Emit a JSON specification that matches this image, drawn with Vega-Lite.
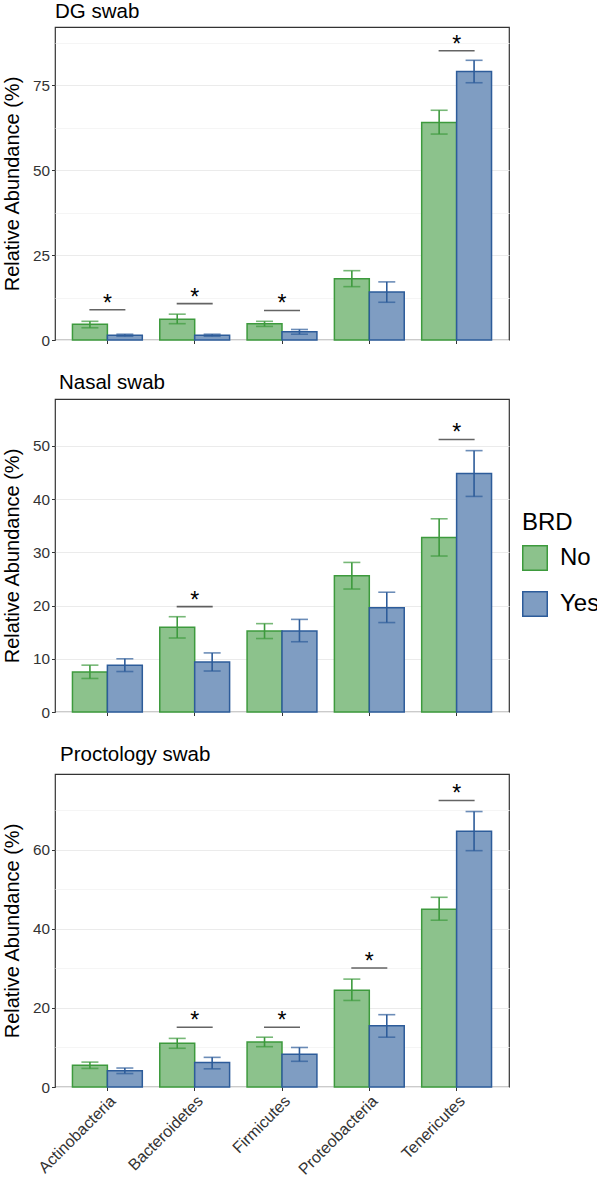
{
  "$schema": "https://vega.github.io/schema/vega-lite/v6.json",
  "padding": {"left": 1, "top": 0, "right": 0, "bottom": 0},
  "background": "white",
  "spacing": 22,
  "datasets": {
    "bars": [
      {"panel": "DG", "phylum": "Actinobacteria", "BRD": "No", "mean": 4.6, "lo": 3.6, "hi": 5.5},
      {"panel": "DG", "phylum": "Actinobacteria", "BRD": "Yes", "mean": 1.4, "lo": 1.1, "hi": 1.7},
      {"panel": "DG", "phylum": "Bacteroidetes", "BRD": "No", "mean": 6.1, "lo": 4.8, "hi": 7.6},
      {"panel": "DG", "phylum": "Bacteroidetes", "BRD": "Yes", "mean": 1.4, "lo": 1.1, "hi": 1.7},
      {"panel": "DG", "phylum": "Firmicutes", "BRD": "No", "mean": 4.8, "lo": 4.0, "hi": 5.5},
      {"panel": "DG", "phylum": "Firmicutes", "BRD": "Yes", "mean": 2.4, "lo": 1.7, "hi": 3.1},
      {"panel": "DG", "phylum": "Proteobacteria", "BRD": "No", "mean": 18.0, "lo": 15.7, "hi": 20.4},
      {"panel": "DG", "phylum": "Proteobacteria", "BRD": "Yes", "mean": 14.1, "lo": 11.1, "hi": 17.1},
      {"panel": "DG", "phylum": "Tenericutes", "BRD": "No", "mean": 64.0, "lo": 60.6, "hi": 67.6},
      {"panel": "DG", "phylum": "Tenericutes", "BRD": "Yes", "mean": 79.0, "lo": 75.7, "hi": 82.3},
      {"panel": "Nasal", "phylum": "Actinobacteria", "BRD": "No", "mean": 7.5, "lo": 6.3, "hi": 8.8},
      {"panel": "Nasal", "phylum": "Actinobacteria", "BRD": "Yes", "mean": 8.8, "lo": 7.6, "hi": 10.0},
      {"panel": "Nasal", "phylum": "Bacteroidetes", "BRD": "No", "mean": 15.9, "lo": 13.9, "hi": 17.9},
      {"panel": "Nasal", "phylum": "Bacteroidetes", "BRD": "Yes", "mean": 9.4, "lo": 7.7, "hi": 11.1},
      {"panel": "Nasal", "phylum": "Firmicutes", "BRD": "No", "mean": 15.2, "lo": 13.8, "hi": 16.6},
      {"panel": "Nasal", "phylum": "Firmicutes", "BRD": "Yes", "mean": 15.2, "lo": 13.2, "hi": 17.4},
      {"panel": "Nasal", "phylum": "Proteobacteria", "BRD": "No", "mean": 25.6, "lo": 23.1, "hi": 28.1},
      {"panel": "Nasal", "phylum": "Proteobacteria", "BRD": "Yes", "mean": 19.6, "lo": 16.8, "hi": 22.5},
      {"panel": "Nasal", "phylum": "Tenericutes", "BRD": "No", "mean": 32.8, "lo": 29.3, "hi": 36.3},
      {"panel": "Nasal", "phylum": "Tenericutes", "BRD": "Yes", "mean": 44.8, "lo": 40.5, "hi": 49.1},
      {"panel": "Procto", "phylum": "Actinobacteria", "BRD": "No", "mean": 5.5, "lo": 4.7, "hi": 6.3},
      {"panel": "Procto", "phylum": "Actinobacteria", "BRD": "Yes", "mean": 4.1, "lo": 3.4, "hi": 4.8},
      {"panel": "Procto", "phylum": "Bacteroidetes", "BRD": "No", "mean": 11.1, "lo": 9.8, "hi": 12.3},
      {"panel": "Procto", "phylum": "Bacteroidetes", "BRD": "Yes", "mean": 6.2, "lo": 4.6, "hi": 7.5},
      {"panel": "Procto", "phylum": "Firmicutes", "BRD": "No", "mean": 11.4, "lo": 10.2, "hi": 12.6},
      {"panel": "Procto", "phylum": "Firmicutes", "BRD": "Yes", "mean": 8.3, "lo": 6.5, "hi": 10.0},
      {"panel": "Procto", "phylum": "Proteobacteria", "BRD": "No", "mean": 24.5, "lo": 21.9, "hi": 27.3},
      {"panel": "Procto", "phylum": "Proteobacteria", "BRD": "Yes", "mean": 15.5, "lo": 12.6, "hi": 18.3},
      {"panel": "Procto", "phylum": "Tenericutes", "BRD": "No", "mean": 45.0, "lo": 42.2, "hi": 48.0},
      {"panel": "Procto", "phylum": "Tenericutes", "BRD": "Yes", "mean": 64.7, "lo": 59.8, "hi": 69.7}
    ],
    "sig": [
      {"panel": "DG", "phylum": "Actinobacteria", "y": 8.9, "label": "*"},
      {"panel": "DG", "phylum": "Bacteroidetes", "y": 10.7, "label": "*"},
      {"panel": "DG", "phylum": "Firmicutes", "y": 8.7, "label": "*"},
      {"panel": "DG", "phylum": "Tenericutes", "y": 85.1, "label": "*"},
      {"panel": "Nasal", "phylum": "Bacteroidetes", "y": 19.8, "label": "*"},
      {"panel": "Nasal", "phylum": "Tenericutes", "y": 51.2, "label": "*"},
      {"panel": "Procto", "phylum": "Bacteroidetes", "y": 15.1, "label": "*"},
      {"panel": "Procto", "phylum": "Firmicutes", "y": 15.1, "label": "*"},
      {"panel": "Procto", "phylum": "Proteobacteria", "y": 30.1, "label": "*"},
      {"panel": "Procto", "phylum": "Tenericutes", "y": 72.5, "label": "*"}
    ]
  },
  "resolve": {"legend": {"fill": "independent"}},
  "vconcat": [
    {
      "title": {"text": "DG swab", "offset": 5},
      "width": 454,
      "height": 313,
      "layer": [
        {
          "data": {"name": "bars"},
          "transform": [{"filter": "datum.panel === 'DG'"}],
          "mark": {"type": "bar", "strokeWidth": 1.5},
          "encoding": {
            "x": {"field": "phylum", "type": "nominal", "sort": null, "scale": {"paddingInner": 0.2, "paddingOuter": 0.2}, "axis": {"labels": false, "title": null}},
            "xOffset": {"field": "BRD", "type": "nominal"},
            "y": {"field": "mean", "type": "quantitative", "scale": {"domain": [0, 92.1], "nice": false}, "axis": {"values": [0, 12.5, 25, 37.5, 50, 62.5, 75, 87.5], "labelExpr": "datum.value % 25 === 0 ? datum.label : ''", "gridColor": {"condition": {"test": "datum.value % 25 !== 0", "value": "#f5f5f5"}, "value": "#ebebeb"}, "tickOpacity": {"condition": {"test": "datum.value % 25 !== 0", "value": 0}, "value": 1}, "title": "Relative Abundance (%)"}},
            "fill": {"field": "BRD", "type": "nominal", "scale": {"range": ["#8cc28c", "#7f9dc2"]}, "legend": null},
            "stroke": {"field": "BRD", "type": "nominal", "scale": {"range": ["#3d9a3d", "#2d5c9a"]}, "legend": null}
          }
        },
        {
          "data": {"name": "bars"},
          "transform": [{"filter": "datum.panel === 'DG'"}],
          "mark": {"type": "rule", "strokeWidth": 1.6},
          "encoding": {
            "x": {"field": "phylum", "type": "nominal", "sort": null},
            "xOffset": {"field": "BRD", "type": "nominal"},
            "y": {"field": "lo", "type": "quantitative"},
            "y2": {"field": "hi"},
            "stroke": {"field": "BRD", "type": "nominal", "legend": null}
          }
        },
        {
          "data": {"name": "bars"},
          "transform": [{"filter": "datum.panel === 'DG'"}, {"fold": ["lo", "hi"], "as": ["end", "val"]}],
          "mark": {"type": "tick", "orient": "horizontal", "size": 17, "thickness": 1.6},
          "encoding": {
            "x": {"field": "phylum", "type": "nominal", "sort": null},
            "xOffset": {"field": "BRD", "type": "nominal"},
            "y": {"field": "val", "type": "quantitative"},
            "color": {"field": "BRD", "type": "nominal", "scale": {"range": ["#3d9a3d", "#2d5c9a"]}, "legend": null}
          }
        },
        {
          "data": {"name": "sig"},
          "transform": [{"filter": "datum.panel === 'DG'"}],
          "mark": {"type": "tick", "orient": "horizontal", "size": 36, "thickness": 1.6, "color": "#222222"},
          "encoding": {
            "x": {"field": "phylum", "type": "nominal", "sort": null},
            "y": {"field": "y", "type": "quantitative"}
          }
        },
        {
          "data": {"name": "sig"},
          "transform": [{"filter": "datum.panel === 'DG'"}],
          "mark": {"type": "text", "fontSize": 23, "baseline": "alphabetic", "dy": 1, "color": "#000000"},
          "encoding": {
            "x": {"field": "phylum", "type": "nominal", "sort": null},
            "y": {"field": "y", "type": "quantitative"},
            "text": {"field": "label"}
          }
        }
      ]
    },
    {
      "title": {"text": "Nasal swab", "dx": 4, "offset": 6},
      "width": 454,
      "height": 313,
      "layer": [
        {
          "data": {"name": "bars"},
          "transform": [{"filter": "datum.panel === 'Nasal'"}],
          "mark": {"type": "bar", "strokeWidth": 1.5},
          "encoding": {
            "x": {"field": "phylum", "type": "nominal", "sort": null, "scale": {"paddingInner": 0.2, "paddingOuter": 0.2}, "axis": {"labels": false, "title": null}},
            "xOffset": {"field": "BRD", "type": "nominal"},
            "y": {"field": "mean", "type": "quantitative", "scale": {"domain": [0, 58.8], "nice": false}, "axis": {"values": [0, 5, 10, 15, 20, 25, 30, 35, 40, 45, 50, 55], "labelExpr": "datum.value % 10 === 0 ? datum.label : ''", "gridColor": {"condition": {"test": "datum.value % 10 !== 0", "value": "#f5f5f5"}, "value": "#ebebeb"}, "tickOpacity": {"condition": {"test": "datum.value % 10 !== 0", "value": 0}, "value": 1}, "title": "Relative Abundance (%)"}},
            "fill": {"field": "BRD", "type": "nominal", "scale": {"range": ["#8cc28c", "#7f9dc2"]}, "legend": {"title": "BRD", "orient": "none", "legendX": 467, "legendY": 112, "encode": {"symbols": {"update": {"stroke": {"scale": "stroke", "field": "value"}, "strokeWidth": {"value": 1.5}}}}}},
            "stroke": {"field": "BRD", "type": "nominal", "scale": {"range": ["#3d9a3d", "#2d5c9a"]}, "legend": null}
          }
        },
        {
          "data": {"name": "bars"},
          "transform": [{"filter": "datum.panel === 'Nasal'"}],
          "mark": {"type": "rule", "strokeWidth": 1.6},
          "encoding": {
            "x": {"field": "phylum", "type": "nominal", "sort": null},
            "xOffset": {"field": "BRD", "type": "nominal"},
            "y": {"field": "lo", "type": "quantitative"},
            "y2": {"field": "hi"},
            "stroke": {"field": "BRD", "type": "nominal", "legend": null}
          }
        },
        {
          "data": {"name": "bars"},
          "transform": [{"filter": "datum.panel === 'Nasal'"}, {"fold": ["lo", "hi"], "as": ["end", "val"]}],
          "mark": {"type": "tick", "orient": "horizontal", "size": 17, "thickness": 1.6},
          "encoding": {
            "x": {"field": "phylum", "type": "nominal", "sort": null},
            "xOffset": {"field": "BRD", "type": "nominal"},
            "y": {"field": "val", "type": "quantitative"},
            "color": {"field": "BRD", "type": "nominal", "scale": {"range": ["#3d9a3d", "#2d5c9a"]}, "legend": null}
          }
        },
        {
          "data": {"name": "sig"},
          "transform": [{"filter": "datum.panel === 'Nasal'"}],
          "mark": {"type": "tick", "orient": "horizontal", "size": 36, "thickness": 1.6, "color": "#222222"},
          "encoding": {
            "x": {"field": "phylum", "type": "nominal", "sort": null},
            "y": {"field": "y", "type": "quantitative"}
          }
        },
        {
          "data": {"name": "sig"},
          "transform": [{"filter": "datum.panel === 'Nasal'"}],
          "mark": {"type": "text", "fontSize": 23, "baseline": "alphabetic", "dy": 1, "color": "#000000"},
          "encoding": {
            "x": {"field": "phylum", "type": "nominal", "sort": null},
            "y": {"field": "y", "type": "quantitative"},
            "text": {"field": "label"}
          }
        }
      ]
    },
    {
      "title": {"text": "Proctology swab", "dx": 5, "offset": 9},
      "width": 454,
      "height": 313,
      "layer": [
        {
          "data": {"name": "bars"},
          "transform": [{"filter": "datum.panel === 'Procto'"}],
          "mark": {"type": "bar", "strokeWidth": 1.5},
          "encoding": {
            "x": {"field": "phylum", "type": "nominal", "sort": null, "scale": {"paddingInner": 0.2, "paddingOuter": 0.2}, "axis": {"labelAngle": -45, "labelAlign": "right", "labelBaseline": "top", "title": null}},
            "xOffset": {"field": "BRD", "type": "nominal"},
            "y": {"field": "mean", "type": "quantitative", "scale": {"domain": [0, 79.2], "nice": false}, "axis": {"values": [0, 10, 20, 30, 40, 50, 60, 70], "labelExpr": "datum.value % 20 === 0 ? datum.label : ''", "gridColor": {"condition": {"test": "datum.value % 20 !== 0", "value": "#f5f5f5"}, "value": "#ebebeb"}, "tickOpacity": {"condition": {"test": "datum.value % 20 !== 0", "value": 0}, "value": 1}, "title": "Relative Abundance (%)"}},
            "fill": {"field": "BRD", "type": "nominal", "scale": {"range": ["#8cc28c", "#7f9dc2"]}, "legend": null},
            "stroke": {"field": "BRD", "type": "nominal", "scale": {"range": ["#3d9a3d", "#2d5c9a"]}, "legend": null}
          }
        },
        {
          "data": {"name": "bars"},
          "transform": [{"filter": "datum.panel === 'Procto'"}],
          "mark": {"type": "rule", "strokeWidth": 1.6},
          "encoding": {
            "x": {"field": "phylum", "type": "nominal", "sort": null},
            "xOffset": {"field": "BRD", "type": "nominal"},
            "y": {"field": "lo", "type": "quantitative"},
            "y2": {"field": "hi"},
            "stroke": {"field": "BRD", "type": "nominal", "legend": null}
          }
        },
        {
          "data": {"name": "bars"},
          "transform": [{"filter": "datum.panel === 'Procto'"}, {"fold": ["lo", "hi"], "as": ["end", "val"]}],
          "mark": {"type": "tick", "orient": "horizontal", "size": 17, "thickness": 1.6},
          "encoding": {
            "x": {"field": "phylum", "type": "nominal", "sort": null},
            "xOffset": {"field": "BRD", "type": "nominal"},
            "y": {"field": "val", "type": "quantitative"},
            "color": {"field": "BRD", "type": "nominal", "scale": {"range": ["#3d9a3d", "#2d5c9a"]}, "legend": null}
          }
        },
        {
          "data": {"name": "sig"},
          "transform": [{"filter": "datum.panel === 'Procto'"}],
          "mark": {"type": "tick", "orient": "horizontal", "size": 36, "thickness": 1.6, "color": "#222222"},
          "encoding": {
            "x": {"field": "phylum", "type": "nominal", "sort": null},
            "y": {"field": "y", "type": "quantitative"}
          }
        },
        {
          "data": {"name": "sig"},
          "transform": [{"filter": "datum.panel === 'Procto'"}],
          "mark": {"type": "text", "fontSize": 23, "baseline": "alphabetic", "dy": 1, "color": "#000000"},
          "encoding": {
            "x": {"field": "phylum", "type": "nominal", "sort": null},
            "y": {"field": "y", "type": "quantitative"},
            "text": {"field": "label"}
          }
        }
      ]
    }
  ],
  "config": {
    "font": "Liberation Sans",
    "view": {"stroke": "#333333", "strokeWidth": 1.2},
    "title": {"anchor": "start", "frame": "group", "fontSize": 20.5, "fontWeight": "normal", "color": "#000000", "offset": 7},
    "axis": {
      "domain": false,
      "grid": false,
      "tickColor": "#333333",
      "tickSize": 3.5,
      "tickWidth": 1,
      "labelColor": "#333333",
      "labelPadding": 2,
      "titleFontWeight": "normal",
      "titleColor": "#000000"
    },
    "axisY": {"grid": true, "gridWidth": 1, "labelFontSize": 15.3, "titleFontSize": 20, "titlePadding": 10},
    "axisX": {"labelFontSize": 16},
    "legend": {
      "titleFontSize": 24,
      "titleFontWeight": "normal",
      "titleColor": "#000000",
      "labelFontSize": 24,
      "labelColor": "#000000",
      "symbolType": "square",
      "symbolSize": 600,
      "symbolStrokeWidth": 1.5,
      "rowPadding": 14,
      "labelOffset": 12,
      "titlePadding": 10
    }
  }
}
